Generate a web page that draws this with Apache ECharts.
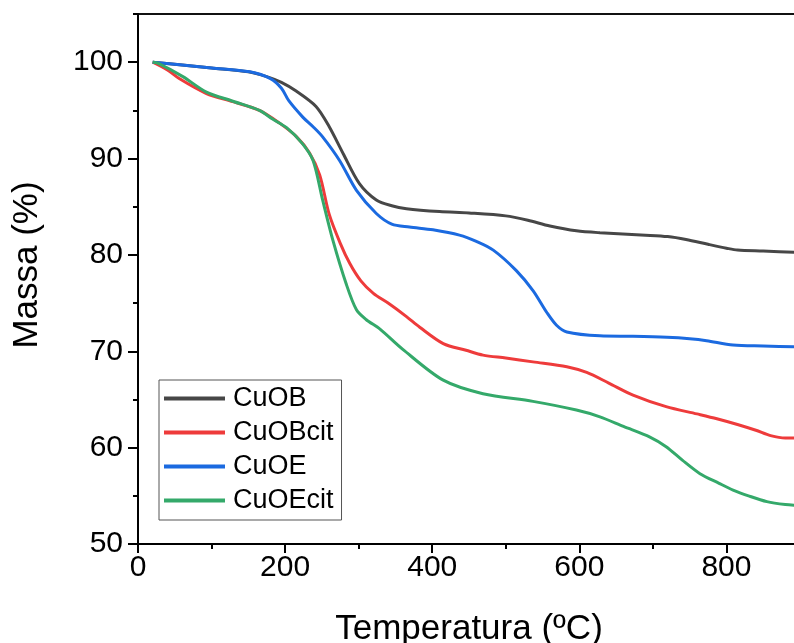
<!DOCTYPE html>
<html>
<head>
<meta charset="utf-8">
<script src="https://cdn.jsdelivr.net/npm/echarts@6/dist/echarts.min.js"></script>
<style>
  html, body { margin: 0; padding: 0; background: #fff; }
  #tgaChart { width: 794px; height: 643px; }
</style>
</head>
<body>
<div id="tgaChart"></div>
<script>
// curvas TGA
const seriesNames = ['CuOB', 'CuOBcit', 'CuOE', 'CuOEcit'];

const tempCuOB = [20, 60, 100, 150, 175, 195, 215, 242, 260, 279, 301, 324, 345, 365, 410, 450, 500, 530, 560, 596, 628, 690, 720, 745, 775, 800, 815, 850, 900];
const massCuOB = [100, 99.7, 99.4, 99.0, 98.5, 97.9, 97.0, 95.4, 93.3, 90.5, 87.4, 85.7, 85.1, 84.8, 84.5, 84.35, 84.05, 83.6, 83.0, 82.5, 82.3, 82.05, 81.9, 81.6, 81.1, 80.7, 80.5, 80.4, 80.25];

const tempCuOBcit = [20, 40, 56, 93, 129, 165, 192, 215, 233, 247, 260, 275, 288, 303, 320, 340, 365, 383, 415, 446, 469, 500, 537, 583, 610, 640, 673, 718, 760, 787, 815, 840, 860, 880, 900];
const massCuOBcit = [100, 99.2, 98.3, 96.75, 95.9, 95.0, 93.7, 92.3, 90.6, 88.3, 84.2, 81.2, 79.1, 77.3, 76.0, 75.0, 73.6, 72.5, 70.8, 70.1, 69.6, 69.3, 68.9, 68.4, 67.8, 66.7, 65.45, 64.25, 63.5, 63.0, 62.4, 61.8, 61.25, 61.0, 61.0];

const tempCuOE = [20, 60, 100, 152, 180, 195, 205, 224, 238, 251, 274, 297, 324, 345, 369, 401, 437, 460, 483, 514, 537, 556, 569, 583, 628, 673, 719, 750, 773, 809, 850, 900];
const massCuOE = [100, 99.7, 99.4, 99.0, 98.3, 97.3, 96.0, 94.3, 93.3, 92.25, 89.8, 86.7, 84.3, 83.2, 82.9, 82.6, 82.05, 81.4, 80.5, 78.4, 76.3, 74.0, 72.7, 72.0, 71.6, 71.55, 71.45, 71.3, 71.1, 70.65, 70.55, 70.45];

const tempCuOEcit = [20, 27, 61, 93, 129, 165, 183, 202, 223, 238, 251, 265, 283, 297, 310, 329, 360, 415, 469, 537, 596, 628, 660, 696, 718, 740, 764, 790, 809, 830, 855, 880, 900];
const massCuOEcit = [100, 99.9, 98.5, 96.9, 95.95, 95.0, 94.1, 93.2, 91.6, 89.8, 85.7, 81.5, 77.0, 74.3, 73.3, 72.3, 70.2, 67.0, 65.6, 64.8, 63.9, 63.2, 62.2, 61.1, 60.1, 58.7, 57.3, 56.3, 55.6, 55.0, 54.4, 54.1, 54.0];

const xMajorTicks = [0, 200, 400, 600, 800];
const xMinorTicks = [100, 300, 500, 700, 900];
const yMajorTicks = [50, 60, 70, 80, 90, 100];
const yMinorTicks = [55, 65, 75, 85, 95, 105];

const lineColors = ['#474747', '#ee3b3b', '#1b6ae0', '#34a96a'];
const fontName = '"Liberation Sans", Arial, sans-serif';

function pairs(t, m) {
    return t.map((v, i) => [v, m[i]]);
}

const allData = [
    pairs(tempCuOB, massCuOB),
    pairs(tempCuOBcit, massCuOBcit),
    pairs(tempCuOE, massCuOE),
    pairs(tempCuOEcit, massCuOEcit)
];

let myChart = echarts.init(document.getElementById('tgaChart'));

myChart.setOption({
    animation: false,
    textStyle: { fontFamily: fontName, color: '#000' },
    grid: {
        left: 138, top: 14, right: -6, bottom: 99,
        show: true, borderColor: '#111', borderWidth: 2,
        outerBoundsMode: 'none'
    },
    legend: {
        orient: 'vertical',
        left: 159, top: 380,
        data: seriesNames,
        icon: 'rect',
        itemWidth: 61, itemHeight: 4,
        itemGap: 7,
        padding: [5, 8, 6, 5],
        borderColor: '#555', borderWidth: 1,
        backgroundColor: '#fff',
        textStyle: { fontSize: 27, color: '#000', fontFamily: fontName, padding: [0, 0, 0, 3] }
    },
    xAxis: [
        {
            type: 'value', min: 0, max: 900,
            name: 'Temperatura (ºC)', nameLocation: 'middle', nameGap: 68,
            nameTextStyle: { fontSize: 35, color: '#000', fontFamily: fontName },
            axisLine: { lineStyle: { color: '#000', width: 2 } },
            axisTick: { customValues: xMajorTicks, length: 9, lineStyle: { color: '#000', width: 2 } },
            axisLabel: { customValues: xMajorTicks, fontSize: 30, color: '#000', margin: 9 },
            splitLine: { show: false }
        },
        {
            type: 'value', min: 0, max: 900, position: 'bottom',
            axisLine: { show: false },
            axisTick: { customValues: xMinorTicks, length: 5, lineStyle: { color: '#000', width: 2 } },
            axisLabel: { show: false },
            splitLine: { show: false }
        }
    ],
    yAxis: [
        {
            type: 'value', min: 50, max: 105,
            name: 'Massa (%)', nameLocation: 'middle', nameGap: 93,
            nameTextStyle: { fontSize: 35, color: '#000', fontFamily: fontName, padding: [0, 0, 0, 28] },
            axisLine: { show: true, lineStyle: { color: '#000', width: 2 } },
            axisTick: { show: true, customValues: yMajorTicks, length: 10, lineStyle: { color: '#000', width: 2 } },
            axisLabel: { customValues: yMajorTicks, fontSize: 30, color: '#000', margin: 15 },
            splitLine: { show: false }
        },
        {
            type: 'value', min: 50, max: 105, position: 'left',
            axisLine: { show: false },
            axisTick: { show: true, customValues: yMinorTicks, length: 5, lineStyle: { color: '#000', width: 2 } },
            axisLabel: { show: false },
            splitLine: { show: false }
        }
    ],
    series: seriesNames.map((name, i) => ({
        name: name,
        type: 'line',
        xAxisIndex: 0,
        yAxisIndex: 0,
        data: allData[i],
        smooth: 0.3,
        showSymbol: false,
        symbol: 'none',
        lineStyle: { color: lineColors[i], width: 3 },
        itemStyle: { color: lineColors[i] }
    }))
});
</script>
</body>
</html>
